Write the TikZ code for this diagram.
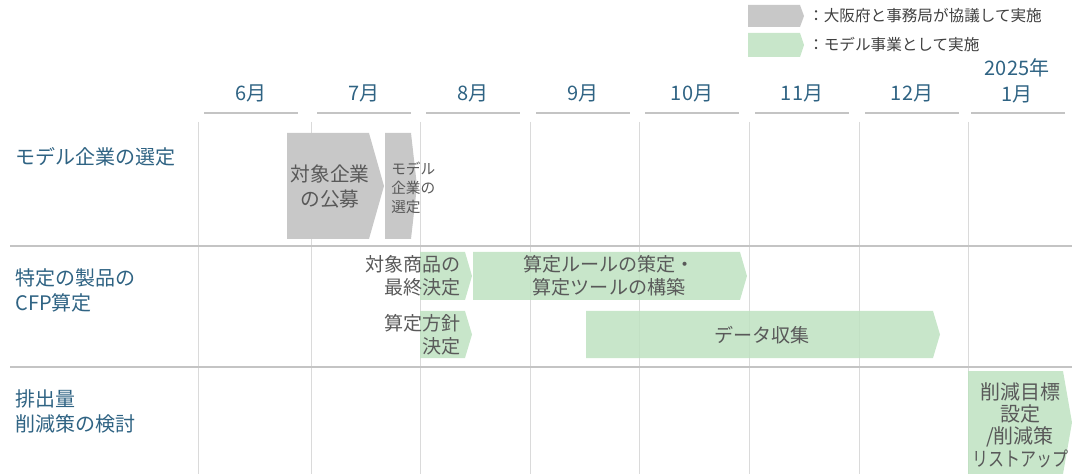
\documentclass[tikz,border=0pt]{standalone}
\usepackage{fontspec}
\setmainfont{Noto Sans CJK JP}
\usepackage{tikz}
\usetikzlibrary{calc}
\usepackage{xcolor}
\definecolor{labelblue}{HTML}{2F6383}
\definecolor{shapetext}{HTML}{595959}
\definecolor{legendtext}{HTML}{404040}
\definecolor{shapegray}{HTML}{C8C8C8}
\definecolor{shapegreen}{HTML}{BEE2C1}
\definecolor{gridgray}{HTML}{DADADA}
\definecolor{rowgray}{HTML}{C4C4C4}

% pentagon bar: style, left, top, right, bottom, tip
\newcommand{\tagshape}[6]{\fill[#1] (#2,#3) -- (#4,#3) -- (#6,{(#3+#5)/2}) -- (#4,#5) -- (#2,#5) -- cycle;}

\begin{document}
\begin{tikzpicture}[x=0.75pt, y=-0.75pt,
    rowlabel/.style={anchor=west, align=left, text=labelblue, inner sep=0pt, font=\fontsize{15}{18.75}\selectfont},
    monthlabel/.style={align=center, text=labelblue, inner sep=0pt, font=\fontsize{15}{19}\selectfont},
    bartext/.style={align=center, text=shapetext, inner sep=0pt, font=\fontsize{14.3}{17.3}\selectfont},
    legendlabel/.style={anchor=west, text=legendtext, inner sep=0pt, font=\fontsize{11.7}{14}\selectfont},
    graybar/.style={fill=shapegray},
    greenbar/.style={fill=shapegreen, fill opacity=0.85}]

        \useasboundingbox (0,0) rectangle (1072,474);

        % Legend
        \tagshape{graybar}{748}{5}{800}{27}{804}
        \tagshape{greenbar}{748}{33}{800}{57}{804}
        \node[legendlabel] (leg1) at (808,16) {：大阪府と事務局が協議して実施};
        \node[legendlabel] (leg2) at (808,45) {：モデル事業として実施};

        % Month columns: header, underline and grid line
        \foreach \x/\m in {198/6月, 311/7月, 420/8月, 530/9月, 639/10月, 749/11月, 859/12月} {
            \draw[gridgray, line width=0.75pt] (\x,122) -- (\x,474);
            \draw[rowgray, line width=1.5pt] (\x+6,113) -- (\x+100,113);
            \node[monthlabel] (m\x) at (\x+53,93) {\m};
        }
        \draw[gridgray, line width=0.75pt] (968,122) -- (968,474);
        \draw[rowgray, line width=1.5pt] (971,113) -- (1065,113);
        \node[monthlabel, anchor=south] (m968) at (1017,103) {2025年\\1月};

        % Row separators
        \draw[rowgray, line width=1.5pt] (10,246) -- (1072,246);
        \draw[rowgray, line width=1.5pt] (10,367) -- (1072,367);

        % Row labels
        \node[rowlabel] (row1) at (15,157) {モデル企業の選定};
        \node[rowlabel] (row2) at (15,290) {特定の製品の\\CFP算定};
        \node[rowlabel] (row3) at (15,411) {排出量\\削減策の検討};

        % Row 1: selection of model companies
        \tagshape{graybar}{287}{133}{369}{239}{384}
        \tagshape{graybar}{385}{133}{411}{239}{417}
        \node[bartext, font=\fontsize{14.8}{18.75}\selectfont] (kobo) at (330,187) {対象企業\\の公募};
        \node[bartext, anchor=west, align=left, font=\fontsize{11}{14.3}\selectfont] (sentei) at (391,188) {モデル\\企業の\\選定};

        % Row 2: CFP calculation
        \tagshape{greenbar}{420}{252}{465}{300}{472}
        \tagshape{greenbar}{473}{252}{740}{300}{747}
        \tagshape{greenbar}{420}{311}{465}{358}{472}
        \tagshape{greenbar}{586}{311}{933}{358}{940}
        \node[bartext, anchor=east, align=right] (shohin) at (461,276) {対象商品の\\最終決定};
        \node[bartext] (rule) at (609,276) {算定ルールの策定・\\算定ツールの構築};
        \node[bartext, anchor=east, align=right] (hoshin) at (461,335) {算定方針\\決定};
        \node[bartext] (data) at (762,335) {データ収集};

        % Row 3: reduction measures
        \tagshape{greenbar}{968}{371}{1063}{474}{1072}
        \node[bartext, font=\fontsize{15}{16.8}\selectfont] (sakugen) at (1020,425) {削減目標\\設定\\/削減策\\\scalebox{0.8}[1]{リストアップ}};

    \end{tikzpicture}
\end{document}
